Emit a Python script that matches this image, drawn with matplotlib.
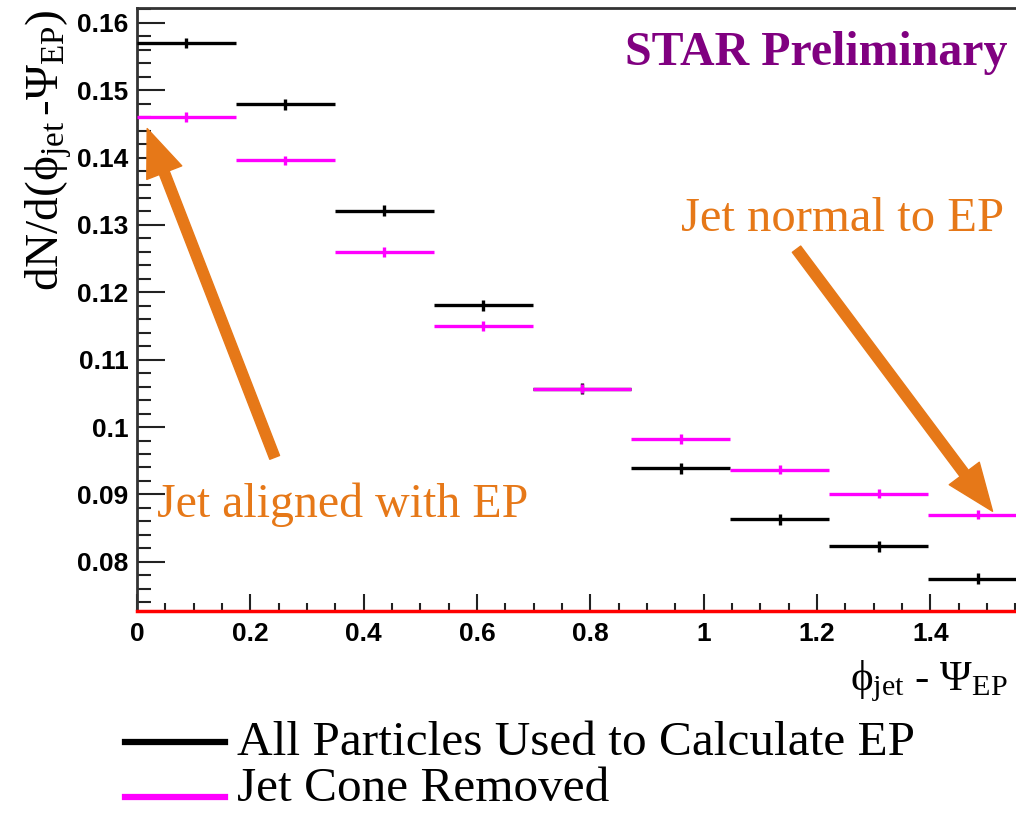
import numpy as np
import matplotlib
matplotlib.use("Agg")
import matplotlib.pyplot as plt
from matplotlib.ticker import MultipleLocator, FormatStrFormatter

# 9 bins in phi_jet - Psi_EP from 0 to pi/2
phi_edges = np.linspace(0., np.pi/2, 10)
phi_centers = 0.5*(phi_edges[1:] + phi_edges[:-1])
phi_halfwidth = 0.5*np.diff(phi_edges)

# values
all_particles = [0.1570, 0.1479, 0.1321, 0.1181, 0.1057, 0.0939, 0.0863, 0.0823, 0.0775]
all_particles_err = [0.0008]*9
cone_removed = [0.1460, 0.1396, 0.1260, 0.1150, 0.1057, 0.0982, 0.0937, 0.0901, 0.0870]
cone_removed_err = [0.0007]*9

legend_labels = ["All Particles Used to Calculate EP", "Jet Cone Removed"]

orange = '#E67818'
magenta = '#FF00FF'

plt.rcParams['mathtext.fontset'] = 'custom'
plt.rcParams['mathtext.rm'] = 'Liberation Serif'
plt.rcParams['mathtext.it'] = 'Liberation Serif:italic'

W, H = 1016, 813
fig = plt.figure(figsize=(W/100, H/100), dpi=100)
# axes runs a bit past the right edge of the picture, like the original crop
ax = fig.add_axes([137/W, 1 - 611/H, 890/W, 603/H])

ax.errorbar(phi_centers, all_particles, xerr=phi_halfwidth, yerr=all_particles_err,
            fmt='none', ecolor='black', elinewidth=2.4, capsize=0, zorder=3)
ax.errorbar(phi_centers, cone_removed, xerr=phi_halfwidth, yerr=cone_removed_err,
            fmt='none', ecolor=magenta, elinewidth=2.4, capsize=0, zorder=4)

ax.set_xlim(0., np.pi/2)
ax.set_ylim(0.0727, 0.1622)
ax.axhline(0.0727, color='red', lw=2.5, zorder=5, clip_on=False)

ax.xaxis.set_major_locator(MultipleLocator(0.2))
ax.xaxis.set_minor_locator(MultipleLocator(0.05))
ax.yaxis.set_major_locator(MultipleLocator(0.01))
ax.yaxis.set_minor_locator(MultipleLocator(0.002))
ax.xaxis.set_major_formatter(FormatStrFormatter('%g'))
ax.yaxis.set_major_formatter(FormatStrFormatter('%g'))

ax.tick_params(which='both', direction='in', top=False, right=False, color='#222222')
ax.tick_params(axis='y', which='major', length=20, width=1.5, pad=6)
ax.tick_params(axis='y', which='minor', length=10, width=1.5)
ax.tick_params(axis='x', which='major', length=12, width=1.5, pad=8)
ax.tick_params(axis='x', which='minor', length=6, width=1.5)
for lab in ax.get_xticklabels() + ax.get_yticklabels():
    lab.set_fontfamily('Liberation Sans')
    lab.set_fontweight('bold')
    lab.set_fontsize(19)
for s in ax.spines.values():
    s.set_linewidth(2)
    s.set_color('#333333')

ax.set_ylabel(r'$\mathrm{dN/d(\phi_{jet}\,\text{-}\Psi_{EP})}$', fontsize=34, loc='top')
ax.yaxis.set_label_coords(-63/890, 0.997)
fig.text(1008/W, 1 - 690/H, r'$\mathrm{\phi_{jet}}$ - $\mathrm{\Psi_{EP}}$',
         fontsize=31, family='Liberation Serif', ha='right', va='baseline')

ax.text(0.862, 0.1537, 'STAR Preliminary', color='#800080', fontsize=34.5,
        family='Liberation Serif', fontweight='bold', va='baseline')
ax.text(0.961, 0.1291, 'Jet normal to EP', color=orange, fontsize=35,
        family='Liberation Serif', va='baseline')
ax.text(0.035, 0.0867, 'Jet aligned with EP', color=orange, fontsize=34.5,
        family='Liberation Serif', va='baseline')

arrow = dict(arrowstyle='simple,head_length=3.4,head_width=2.7,tail_width=0.75',
             color=orange, mutation_scale=10, shrinkA=0, shrinkB=0)
ax.annotate('', xy=(0.018, 0.1443), xytext=(0.243, 0.0955), arrowprops=arrow)
ax.annotate('', xy=(1.510, 0.0875), xytext=(1.164, 0.1264), arrowprops=arrow)

# legend drawn below the frame
fig.lines.append(plt.Line2D([125/W, 225/W], [1 - 742/H]*2, color='black', lw=4.5,
                            transform=fig.transFigure))
fig.lines.append(plt.Line2D([125/W, 225/W], [1 - 797/H]*2, color=magenta, lw=4.5,
                            transform=fig.transFigure))
fig.text(237/W, 1 - 755/H, legend_labels[0], fontsize=35.5, family='Liberation Serif',
         va='baseline')
fig.text(237/W, 1 - 801/H, legend_labels[1], fontsize=35.5, family='Liberation Serif',
         va='baseline')

fig.savefig('out.png', dpi=100)
